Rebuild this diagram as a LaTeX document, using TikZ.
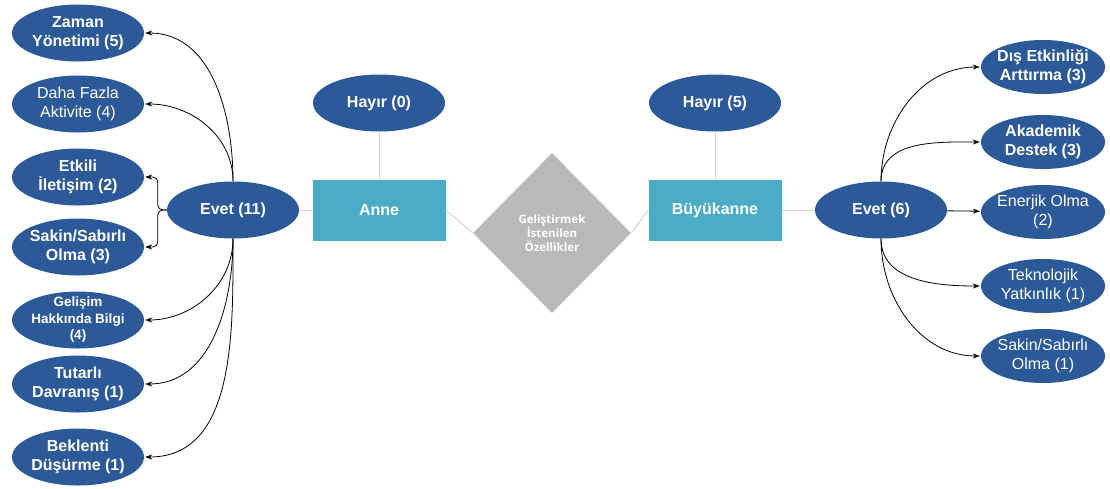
\documentclass[tikz,border=0pt]{standalone}
\usepackage{fontspec}
\setmainfont{Liberation Sans}
\newfontfamily\diamfont{Open Sans}
\usetikzlibrary{positioning, shapes.geometric, arrows.meta}
\definecolor{ovalblue}{HTML}{2C5A98}
\definecolor{boxteal}{HTML}{4BACC6}
\definecolor{diamgray}{HTML}{B9B9B9}
\definecolor{linkgray}{HTML}{D5D5D5}

\begin{document}
\begin{tikzpicture}[
    x=1pt, y=-1pt,
    on grid,
    node distance=107pt,
    oval/.style={ellipse, fill=ovalblue, text=white, minimum width=132pt, minimum height=57pt, inner sep=-10pt, align=center, font=\bfseries\fontsize{16}{18.5}\selectfont},
    plain oval/.style={oval, font=\fontsize{16}{18.5}\selectfont},
    roval/.style={oval, minimum width=124pt, minimum height=54pt},
    box/.style={rectangle, fill=boxteal, text=white, minimum width=133pt, minimum height=61pt, font=\bfseries\fontsize{16}{18.5}\selectfont},
    diam/.style={diamond, fill=diamgray, text=white, minimum width=158pt, minimum height=160pt, inner sep=0pt, align=center, font=\diamfont\bfseries\fontsize{11.5}{14}\selectfont},
    link/.style={draw=linkgray, line width=1pt},
    arr/.style={->, line width=0.8pt, shorten >=1pt},
    >={Stealth[length=7pt, width=5pt]}
]
   \useasboundingbox (0,0) rectangle (1110,488);

   % Center
   \node[diam] (ozellik) at (552,233) {Geliştirmek\\İstenilen\\Özellikler};
   \node[box] (anne) at (379,210) {Anne};
   \node[box] (buyukanne) at (715,210) {Büyükanne};
   \node[oval] (hayirA) [above=of anne] {Hayır (0)};
   \node[oval] (hayirB) [above=of buyukanne] {Hayır (5)};
   \node[oval] (evetA) [left=146pt of anne] {Evet (11)};
   \node[oval] (evetB) [right=166pt of buyukanne] {Evet (6)};

   % Anne answers
   \node[oval] (zaman) at (78,33) {Zaman\\Yönetimi (5)};
   \node[plain oval] (daha) at (78,104) {Daha Fazla\\Aktivite (4)};
   \node[oval] (etkili) at (78,177) {Etkili\\İletişim (2)};
   \node[oval] (sakinA) at (78,247) {Sakin/Sabırlı\\Olma (3)};
   \node[oval, font=\bfseries\fontsize{13.5}{16.5}\selectfont] (gelisim) at (78,320) {Gelişim\\Hakkında Bilgi\\(4)};
   \node[oval] (tutarli) at (78,384) {Tutarlı\\Davranış (1)};
   \node[oval] (beklenti) at (78,457) {Beklenti\\Düşürme (1)};

   % Buyukanne answers
   \node[roval] (dis) at (1043,67) {Dış Etkinliği\\Arttırma (3)};
   \node[roval] (akademik) at (1043,142) {Akademik\\Destek (3)};
   \node[roval, plain oval, minimum width=124pt, minimum height=54pt] (enerjik) at (1043,212) {Enerjik Olma\\(2)};
   \node[roval, plain oval, minimum width=124pt, minimum height=54pt] (teknolojik) at (1043,286) {Teknolojik\\Yatkınlık (1)};
   \node[roval, plain oval, minimum width=124pt, minimum height=54pt] (sakinB) at (1043,356) {Sakin/Sabırlı\\Olma (1)};

   % Plain links
   \path[link]
   (hayirA) edge (anne)
   (evetA) edge (anne)
   (anne.east) edge (ozellik.west)
   (ozellik.east) edge (buyukanne.west)
   (buyukanne) edge (evetB)
   (hayirB) edge (buyukanne);

   % Arrows
   \path[arr]
   (evetA.north) edge[out=90, in=0] (zaman.east)
                 edge[out=90, in=0] (daha.east)
   (evetA.south) edge[out=-90, in=0] (gelisim.east)
                 edge[out=-90, in=0] (tutarli.east)
                 edge[out=-90, in=0] (beklenti.east)

   (evetB.north) edge[out=90, in=180] (dis.west)
                 edge[out=90, in=180] (akademik.west)
   (evetB) edge (enerjik)
   (evetB.south) edge[out=-90, in=180] (teknolojik.west)
                 edge[out=-90, in=180] (sakinB.west);

   \draw[arr, rounded corners=5pt] (evetA.west) -- ++(-9,0) |- (etkili.east);
   \draw[arr, rounded corners=5pt] (evetA.west) -- ++(-9,0) |- (sakinA.east);

\end{tikzpicture}
\end{document}
